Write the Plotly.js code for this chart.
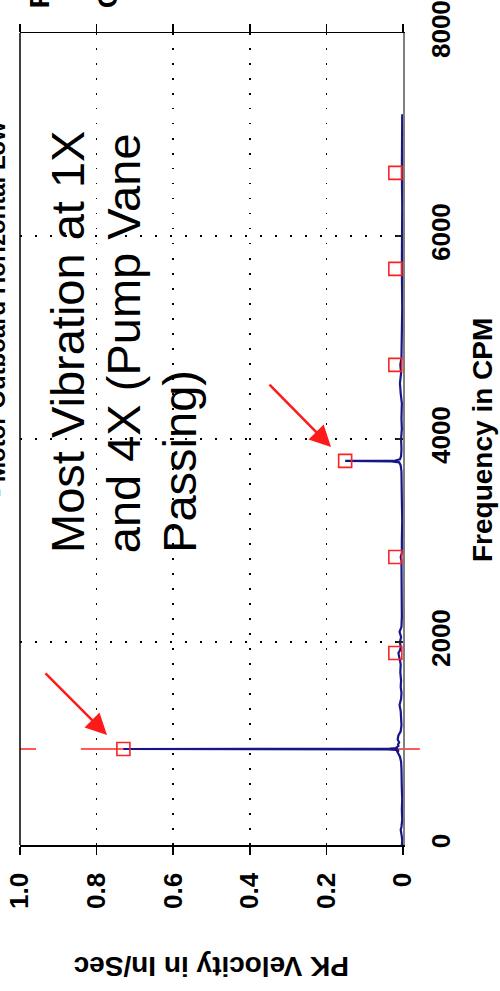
<!DOCTYPE html>
<html>
<head>
<meta charset="utf-8">
<script src="https://cdn.plot.ly/plotly-3.0.1.min.js"></script>
<style>
  html, body { margin: 0; padding: 0; background: #fff; overflow: hidden; }
  #chart { width: 500px; height: 991px; }
</style>
</head>
<body>
<div id="chart"></div>
<script>
// Spectrum: frequency (CPM) and peak velocity (in/sec)
const specFreq = [0, 40, 80, 120, 150, 180, 250, 350, 450, 550,
  650, 750, 820, 870, 900, 920, 930, 938, 942, 946,
  950, 955, 962, 975, 990, 1010, 1040, 1080, 1120, 1180,
  1250, 1320, 1380, 1440, 1500, 1560, 1620, 1700, 1780, 1840,
  1870, 1892, 1915, 1950, 2000, 2050, 2100, 2150, 2250, 2400,
  2550, 2700, 2800, 2838, 2880, 3000, 3200, 3400, 3550, 3680,
  3740, 3770, 3780, 3784, 3788, 3800, 3830, 3900, 4000, 4100,
  4200, 4350, 4450, 4550, 4650, 4730, 4800, 5000, 5300, 5676,
  6000, 6300, 6622, 6900, 7200];
const specVel = [0.003, 0.002, 0.003, 0.004, 0.006, 0.004, 0.002, 0.003, 0.002, 0.003,
  0.003, 0.004, 0.005, 0.008, 0.012, 0.015, 0.011, 0.018, 0.04, 0.73,
  0.035, 0.014, 0.017, 0.012, 0.013, 0.01, 0.014, 0.012, 0.006, 0.004,
  0.005, 0.006, 0.009, 0.005, 0.004, 0.006, 0.005, 0.007, 0.006, 0.009,
  0.011, 0.012, 0.008, 0.006, 0.008, 0.005, 0.009, 0.004, 0.003, 0.003,
  0.004, 0.003, 0.004, 0.006, 0.003, 0.003, 0.002, 0.003, 0.003, 0.004,
  0.006, 0.01, 0.03, 0.151, 0.02, 0.008, 0.005, 0.004, 0.005, 0.003,
  0.004, 0.003, 0.006, 0.008, 0.005, 0.007, 0.004, 0.003, 0.002, 0.003,
  0.002, 0.002, 0.003, 0.002, 0.002];

// Harmonic markers (1X .. 7X)
const harmFreq = [946, 1892, 2838, 3784, 4730, 5676, 6622];
const harmVel  = [0.73, 0.02, 0.02, 0.151, 0.02, 0.02, 0.02];

// Tick labels
const velTicks = [1.0, 0.8, 0.6, 0.4, 0.2, 0];
const velTickText = ['1.0', '0.8', '0.6', '0.4', '0.2', '0'];
const freqTicks = [0, 2000, 4000, 6000, 8000];
const freqTickText = ['0', '2000', '4000', '6000', '8000'];

const FONT = 'Liberation Sans, Arial, Helvetica, sans-serif';
const oneX = harmFreq[0];

const traces = [
  {
    type: 'scatter', mode: 'lines',
    x: specVel, y: specFreq,
    line: { color: '#16168a', width: 2.2 },
    hoverinfo: 'skip', showlegend: false
  },
  {
    type: 'scatter', mode: 'markers',
    x: harmVel, y: harmFreq,
    marker: { symbol: 'square-open', size: 13, color: '#ff2020', line: { width: 1.6, color: '#ff2020' } },
    hoverinfo: 'skip', showlegend: false
  }
];

const gridDash = '1.5px,13.5px';

const layout = {
  width: 500, height: 991,
  margin: { l: 20, r: 97, t: 33, b: 146, pad: 0 },
  paper_bgcolor: '#ffffff', plot_bgcolor: '#ffffff',
  showlegend: false,
  font: { family: FONT, color: '#000' },
  xaxis: {
    range: [1, 0], autorange: false,
    tickvals: velTicks, ticktext: velTickText,
    tickangle: -90,
    tickfont: { family: FONT, size: 26, weight: 700, color: '#000' },
    ticks: 'outside', ticklen: 8, tickwidth: 1.5, tickcolor: '#000',
    ticklabelstandoff: 8,
    showline: true, linecolor: '#000', linewidth: 1.5, mirror: 'ticks',
    showgrid: true, gridcolor: '#000', gridwidth: 1.5, griddash: gridDash,
    zeroline: false
  },
  yaxis: {
    range: [0, 8000], autorange: false, side: 'right',
    tickvals: freqTicks, ticktext: freqTickText,
    tickangle: -90,
    tickfont: { family: FONT, size: 26, weight: 700, color: '#000' },
    ticks: 'inside', ticklen: 7, tickwidth: 1.5, tickcolor: '#222',
    ticklabelstandoff: 14,
    showline: true, linecolor: '#808080', linewidth: 2, mirror: false,
    showgrid: true, gridcolor: '#000', gridwidth: 1.5, griddash: gridDash,
    zeroline: false
  },
  shapes: [
    { type: 'line', xref: 'paper', yref: 'paper', x0: 0, x1: 0, y0: 0, y1: 1,
      line: { color: '#000', width: 1.5 } },
    { type: 'line', xref: 'paper', yref: 'y', x0: 0, x1: 0.042, y0: oneX, y1: oneX,
      line: { color: 'rgba(255,60,60,0.85)', width: 2 }, layer: 'below' },
    { type: 'line', xref: 'paper', yref: 'y', x0: 0.159, x1: 1.044, y0: oneX, y1: oneX,
      line: { color: 'rgba(255,60,60,0.85)', width: 2 }, layer: 'below' }
  ],
  annotations: [
    // Clipped title / header fragments
    { text: '- Motor Outboard Horizontal Low', xref: 'paper', yref: 'paper',
      x: -0.062, y: 0.8929, xanchor: 'center', yanchor: 'top', textangle: -90,
      showarrow: false, font: { family: FONT, size: 24, weight: 700, color: '#000' } },
    { text: 'R', xref: 'paper', yref: 'paper', x: 0.05, y: 1.0283,
      xanchor: 'center', yanchor: 'bottom', textangle: -90, showarrow: false,
      font: { family: FONT, size: 28, weight: 700, color: '#000' } },
    { text: 'C', xref: 'paper', yref: 'paper', x: 0.228, y: 1.0283,
      xanchor: 'center', yanchor: 'bottom', textangle: -90, showarrow: false,
      font: { family: FONT, size: 28, weight: 700, color: '#000' } },
    // Big note text
    { text: 'Most Vibration at 1X', xref: 'paper', yref: 'paper', x: 0.1225, y: 0.3571,
      xanchor: 'center', yanchor: 'bottom', textangle: -90, showarrow: false,
      font: { family: FONT, size: 47, color: '#000' } },
    { text: 'and 4X (Pump Vane', xref: 'paper', yref: 'paper', x: 0.2695, y: 0.3571,
      xanchor: 'center', yanchor: 'bottom', textangle: -90, showarrow: false,
      font: { family: FONT, size: 47, color: '#000' } },
    { text: 'Passing)', xref: 'paper', yref: 'paper', x: 0.416, y: 0.3571,
      xanchor: 'center', yanchor: 'bottom', textangle: -90, showarrow: false,
      font: { family: FONT, size: 47, color: '#000' } },
    // Arrows
    { text: '', xref: 'paper', yref: 'paper', x: 0.2272, y: 0.1355,
      showarrow: true, ax: -63, ay: -63, arrowhead: 2, arrowsize: 1.7, arrowwidth: 2.5,
      arrowcolor: '#ff1a1a', standoff: 0 },
    { text: '', xref: 'paper', yref: 'paper', x: 0.812, y: 0.490,
      showarrow: true, ax: -63, ay: -64, arrowhead: 2, arrowsize: 1.7, arrowwidth: 2.5,
      arrowcolor: '#ff1a1a', standoff: 0 },
    // Axis titles
    { text: 'PK Velocity in In/Sec', xref: 'paper', yref: 'paper', x: 0.5, y: -0.149,
      xanchor: 'center', yanchor: 'middle', textangle: 180, showarrow: false,
      font: { family: FONT, size: 28, weight: 700, color: '#000' } },
    { text: 'Frequency in CPM', xref: 'paper', yref: 'paper', x: 1.2089, y: 0.4988,
      xanchor: 'center', yanchor: 'middle', textangle: -90, showarrow: false,
      font: { family: FONT, size: 28, weight: 700, color: '#000' } }
  ]
};

Plotly.newPlot('chart', traces, layout, { displayModeBar: false, staticPlot: true });
</script>
</body>
</html>
